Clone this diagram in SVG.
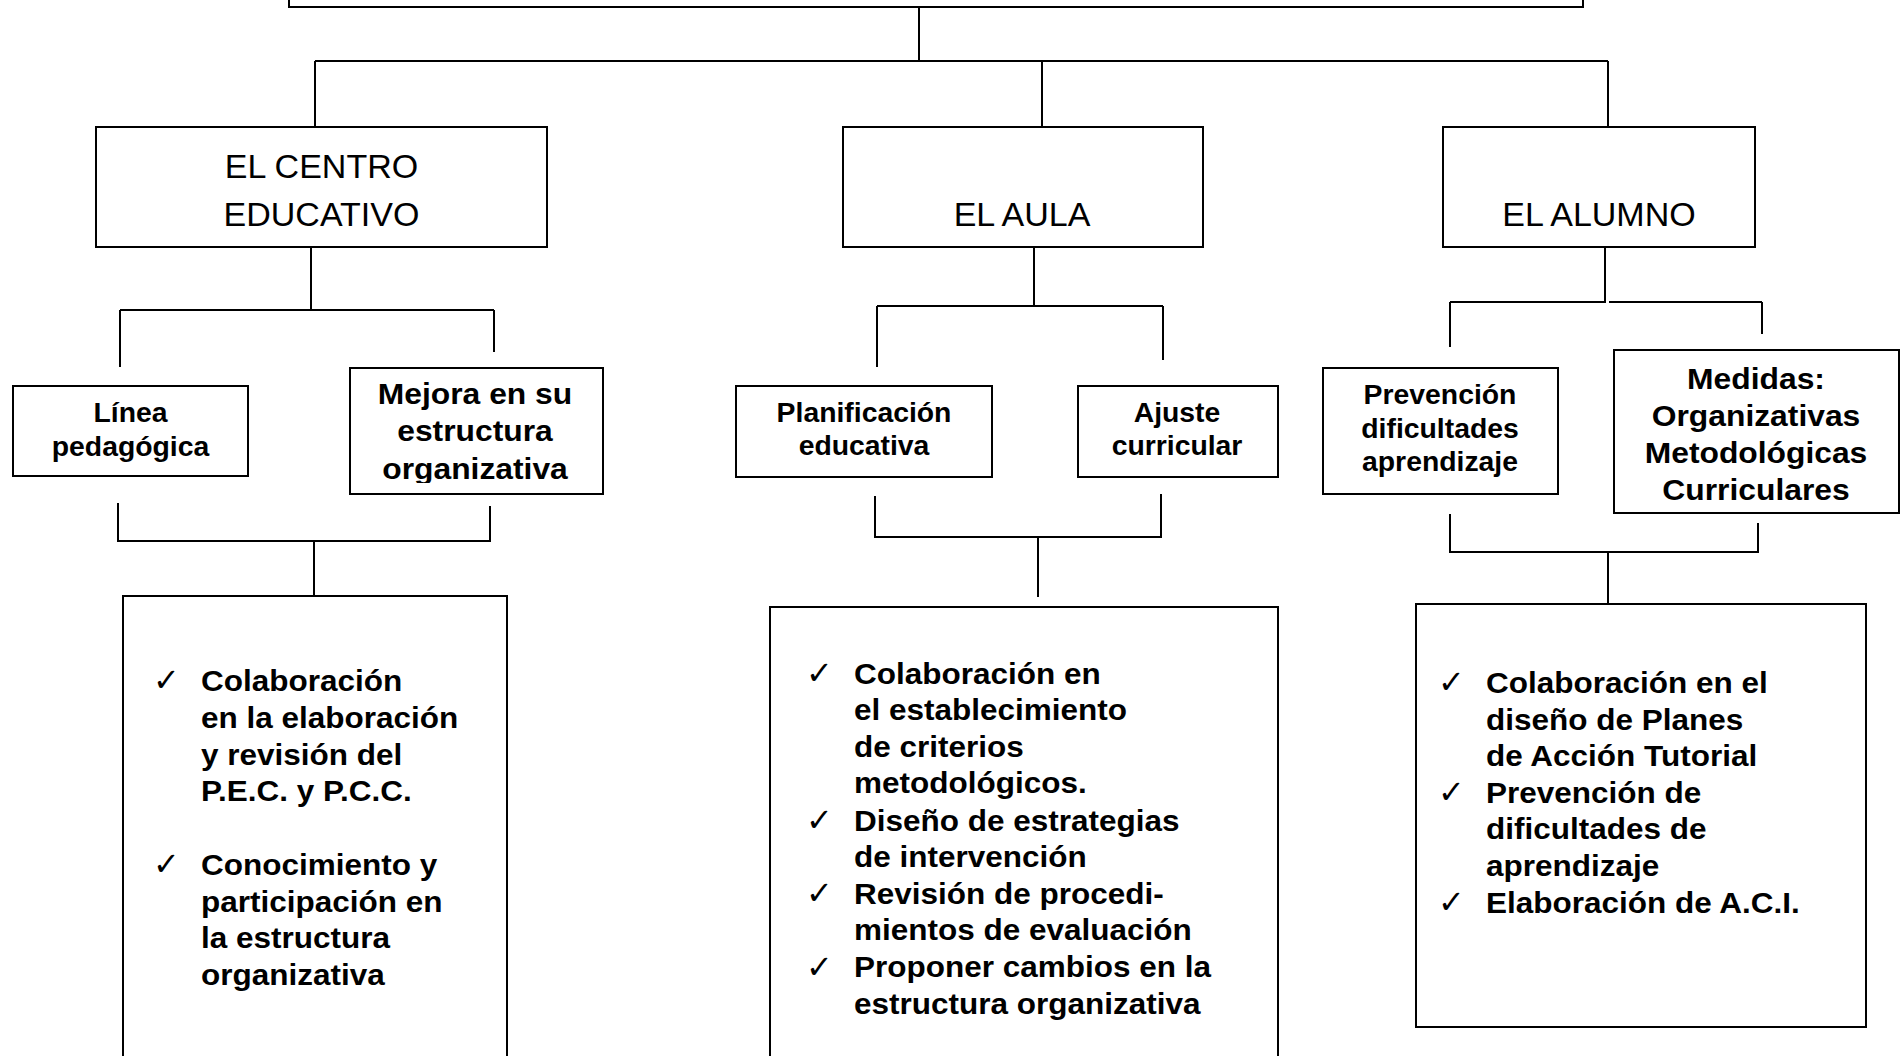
<svg xmlns="http://www.w3.org/2000/svg" width="1903" height="1056" viewBox="0 0 1903 1056">
<style>
.box{fill:#fff;stroke:#000;stroke-width:2}
.ln{fill:none;stroke:#000;stroke-width:2}
.reg{font-family:"Liberation Sans",Arial,sans-serif;font-size:34px;fill:#000;text-anchor:middle}
.b27{font-family:"Liberation Sans",Arial,sans-serif;font-weight:bold;font-size:27px;fill:#000;text-anchor:middle}
.b30c{font-family:"Liberation Sans",Arial,sans-serif;font-weight:bold;font-size:30.3px;fill:#000;text-anchor:middle}
.b30{font-family:"Liberation Sans",Arial,sans-serif;font-weight:bold;font-size:30px;fill:#000}
.chk{font-family:"DejaVu Sans",sans-serif;font-size:32px;fill:#000}
</style>
<defs>
<clipPath id="clipMejora"><rect x="350" y="368" width="253" height="115"/></clipPath>
</defs>
<rect width="1903" height="1056" fill="#fff"/>

<g id="connectors">
<path class="ln" d="M919 7V61M315 61H1608M315 61V132M1042 61V136M1608 61V132"/>
<path class="ln" d="M311 247V310M120 310H494M120 310V367M494 310V352"/>
<path class="ln" d="M118 503V541H490V506M314 541V596"/>
<path class="ln" d="M1034 247V306M877 306H1163M877 306V367M1163 306V360"/>
<path class="ln" d="M875 496V537H1161V494M1038 537V597"/>
<path class="ln" d="M1605 247V302M1450 302H1606M1609 302H1762M1450 302V347M1762 302V334"/>
<path class="ln" d="M1450 514V552H1758V523M1608 552V603"/>
</g>

<g id="top">
<rect class="box" x="289" y="-40" width="1294" height="47"/>
</g>

<g id="centro">
<rect class="box" x="96" y="127" width="451" height="120"/>
<text class="reg" x="321.5" y="178">EL CENTRO</text>
<text class="reg" x="321.5" y="226">EDUCATIVO</text>
</g>
<g id="aula">
<rect class="box" x="843" y="127" width="360" height="120"/>
<text class="reg" x="1022" y="226">EL AULA</text>
</g>
<g id="alumno">
<rect class="box" x="1443" y="127" width="312" height="120"/>
<text class="reg" x="1599" y="226">EL ALUMNO</text>
</g>

<g id="linea">
<rect class="box" x="13" y="386" width="235" height="90"/>
<text class="b27" transform="translate(130.5 0) scale(1.05 1)" x="0" y="422">Línea</text>
<text class="b27" transform="translate(130.5 0) scale(1.05 1)" x="0" y="456">pedagógica</text>
</g>
<g id="mejora">
<rect class="box" x="350" y="368" width="253" height="126"/>
<g clip-path="url(#clipMejora)">
<text class="b30c" transform="translate(475 0) scale(1.05 1)" x="0" y="404.5">Mejora en su</text>
<text class="b30c" transform="translate(475 0) scale(1.05 1)" x="0" y="441.5">estructura</text>
<text class="b30c" transform="translate(475 0) scale(1.05 1)" x="0" y="479">organizativa</text>
</g>
</g>
<g id="planificacion">
<rect class="box" x="736" y="386" width="256" height="91"/>
<text class="b27" transform="translate(864 0) scale(1.05 1)" x="0" y="422">Planificación</text>
<text class="b27" transform="translate(864 0) scale(1.05 1)" x="0" y="455.5">educativa</text>
</g>
<g id="ajuste">
<rect class="box" x="1078" y="386" width="200" height="91"/>
<text class="b27" transform="translate(1177 0) scale(1.05 1)" x="0" y="422">Ajuste</text>
<text class="b27" transform="translate(1177 0) scale(1.05 1)" x="0" y="455.5">curricular</text>
</g>
<g id="prevencion">
<rect class="box" x="1323" y="368" width="235" height="126"/>
<text class="b27" transform="translate(1440 0) scale(1.05 1)" x="0" y="404.5">Prevención</text>
<text class="b27" transform="translate(1440 0) scale(1.05 1)" x="0" y="438">dificultades</text>
<text class="b27" transform="translate(1440 0) scale(1.05 1)" x="0" y="471">aprendizaje</text>
</g>
<g id="medidas">
<rect class="box" x="1614" y="350" width="285" height="163"/>
<text class="b30c" transform="translate(1756 0) scale(1.05 1)" x="0" y="389">Medidas:</text>
<text class="b30c" transform="translate(1756 0) scale(1.05 1)" x="0" y="426">Organizativas</text>
<text class="b30c" transform="translate(1756 0) scale(1.05 1)" x="0" y="463">Metodológicas</text>
<text class="b30c" transform="translate(1756 0) scale(1.05 1)" x="0" y="500">Curriculares</text>
</g>

<g id="funciones-centro">
<rect class="box" x="123" y="596" width="384" height="500"/>
<text class="chk" x="153" y="691">✓</text>
<text class="chk" x="153" y="875">✓</text>
<g transform="translate(201 0) scale(1.05 1)">
<text class="b30" x="0" y="691">Colaboración</text>
<text class="b30" x="0" y="728">en la elaboración</text>
<text class="b30" x="0" y="765">y revisión del</text>
<text class="b30" x="0" y="801.5">P.E.C. y P.C.C.</text>
<text class="b30" x="0" y="875">Conocimiento y</text>
<text class="b30" x="0" y="911.7">participación en</text>
<text class="b30" x="0" y="948.3">la estructura</text>
<text class="b30" x="0" y="985">organizativa</text>
</g>
</g>

<g id="funciones-aula">
<rect class="box" x="770" y="607" width="508" height="500"/>
<text class="chk" x="806" y="684">✓</text>
<text class="chk" x="806" y="830.5">✓</text>
<text class="chk" x="806" y="904">✓</text>
<text class="chk" x="806" y="977.5">✓</text>
<g transform="translate(854 0) scale(1.05 1)">
<text class="b30" x="0" y="684">Colaboración en</text>
<text class="b30" x="0" y="720.5">el establecimiento</text>
<text class="b30" x="0" y="757">de criterios</text>
<text class="b30" x="0" y="793.5">metodológicos.</text>
<text class="b30" x="0" y="830.5">Diseño de estrategias</text>
<text class="b30" x="0" y="867">de intervención</text>
<text class="b30" x="0" y="904">Revisión de procedi-</text>
<text class="b30" x="0" y="940.5">mientos de evaluación</text>
<text class="b30" x="0" y="977.5">Proponer cambios en la</text>
<text class="b30" x="0" y="1014">estructura organizativa</text>
</g>
</g>

<g id="funciones-alumno">
<rect class="box" x="1416" y="604" width="450" height="423"/>
<text class="chk" x="1438" y="693">✓</text>
<text class="chk" x="1438" y="803">✓</text>
<text class="chk" x="1438" y="913">✓</text>
<g transform="translate(1486 0) scale(1.05 1)">
<text class="b30" x="0" y="693">Colaboración en el</text>
<text class="b30" x="0" y="730">diseño de Planes</text>
<text class="b30" x="0" y="766.5">de Acción Tutorial</text>
<text class="b30" x="0" y="803">Prevención de</text>
<text class="b30" x="0" y="839.5">dificultades de</text>
<text class="b30" x="0" y="876">aprendizaje</text>
<text class="b30" x="0" y="913">Elaboración de A.C.I.</text>
</g>
</g>
</svg>
